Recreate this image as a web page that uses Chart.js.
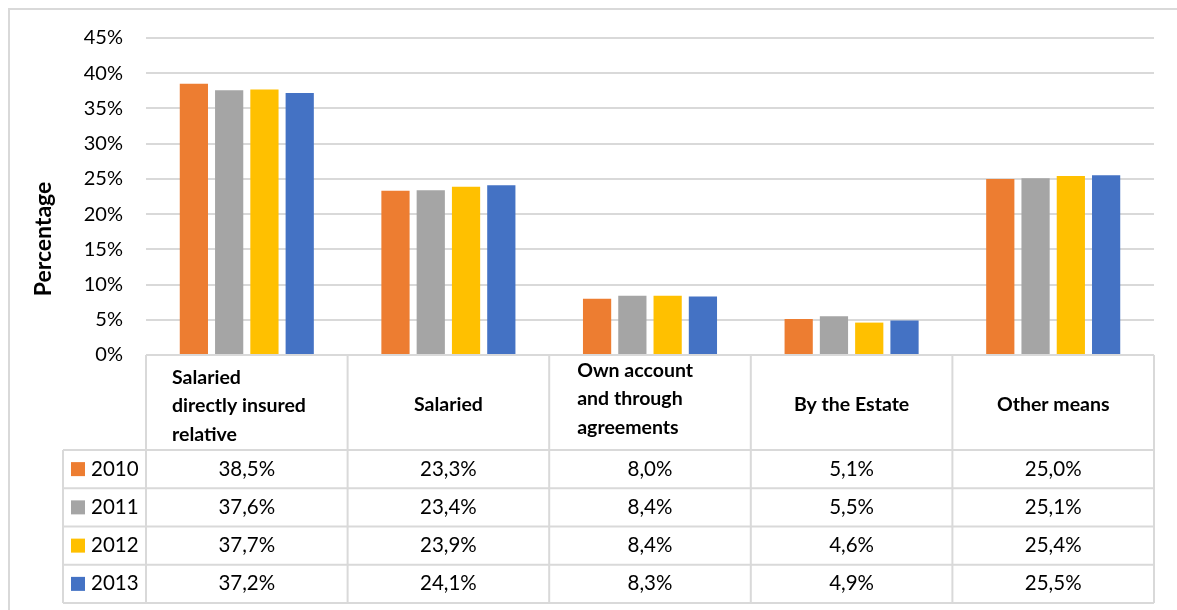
<!DOCTYPE html>
<html>
<head>
<meta charset="utf-8">
<script src="https://cdn.jsdelivr.net/npm/chart.js@4"></script>
<style>
  body { margin: 0; background: #fff; }
  canvas { display: block; }
</style>
</head>
<body>
<canvas id="grafica" width="1177" height="610"></canvas>
<script>
const categorias = [
    ['Salaried', 'directly insured', 'relative'],
    ['Salaried'],
    ['Own account', 'and through', 'agreements'],
    ['By the Estate'],
    ['Other means']
]
const anios = ['2010', '2011', '2012', '2013']
const valores2010 = [38.5, 23.3, 8.0, 5.1, 25.0]
const valores2011 = [37.6, 23.4, 8.4, 5.5, 25.1]
const valores2012 = [37.7, 23.9, 8.4, 4.6, 25.4]
const valores2013 = [37.2, 24.1, 8.3, 4.9, 25.5]
const ticksY = [0, 5, 10, 15, 20, 25, 30, 35, 40, 45]
const tituloY = 'Percentage'

const colores = ['#ed7d31', '#a5a5a5', '#ffc000', '#4472c4']
const series = [valores2010, valores2011, valores2012, valores2013]
const fuente = 'Lato, "Liberation Sans", sans-serif'
const gris = '#d9d9d9'

const formato = v => v.toFixed(1).replace('.', ',') + '%'

// tabla de datos debajo del grafico, como en Excel
const tablaDatos = {
    id: 'tablaDatos',
    afterDraw(chart) {
        const { ctx, chartArea, scales: { x } } = chart
        const n = categorias.length
        const anchoCol = chartArea.width / n
        const izq = chartArea.left
        const der = chartArea.right
        const arriba = chartArea.bottom
        const finCabecera = 450
        const abajo = 603
        const altoFila = (abajo - finCabecera) / anios.length
        const izqLeyenda = 63

        ctx.save()

        // borde exterior
        ctx.strokeStyle = gris
        ctx.lineWidth = 2
        ctx.strokeRect(9, 9, 1300, 800)

        // lineas de la tabla
        ctx.beginPath()
        ctx.moveTo(izq, arriba); ctx.lineTo(der, arriba)
        for (let r = 0; r <= anios.length; r++) {
            const y = finCabecera + r * altoFila
            ctx.moveTo(izqLeyenda, y); ctx.lineTo(der, y)
        }
        ctx.moveTo(izqLeyenda, finCabecera); ctx.lineTo(izqLeyenda, abajo)
        for (let i = 0; i <= n; i++) {
            const xb = i < n ? x.getPixelForValue(i) - anchoCol / 2 : der
            ctx.moveTo(xb, arriba); ctx.lineTo(xb, abajo)
        }
        ctx.stroke()

        // cabeceras
        ctx.fillStyle = '#000'
        ctx.font = 'bold 19.5px ' + fuente
        ctx.textBaseline = 'middle'
        const centroCab = (arriba + finCabecera) / 2
        categorias.forEach((lineas, i) => {
            const cx = x.getPixelForValue(i)
            const x0 = cx - anchoCol / 2
            ctx.save()
            ctx.beginPath()
            ctx.rect(x0, arriba, anchoCol, 86)
            ctx.clip()
            if (lineas.length > 1) {
                ctx.textAlign = 'left'
                const y0 = centroCab - (lineas.length - 1) * 14 + (i === 0 ? 3 : -4)
                lineas.forEach((t, k) => ctx.fillText(t, x0 + (i === 0 ? 26 : 28), y0 + k * 28.5))
            } else {
                ctx.textAlign = 'center'
                ctx.fillText(lineas[0], cx, centroCab + 2)
            }
            ctx.restore()
        })

        // filas de valores
        ctx.font = '20.5px ' + fuente
        anios.forEach((anio, r) => {
            const cy = finCabecera + r * altoFila + altoFila / 2
            ctx.fillStyle = colores[r]
            ctx.fillRect(71, cy - 7, 14, 14)
            ctx.fillStyle = '#000'
            ctx.textAlign = 'left'
            ctx.fillText(anio, 91, cy)
            ctx.textAlign = 'center'
            series[r].forEach((v, i) => ctx.fillText(formato(v), x.getPixelForValue(i), cy))
        })

        // titulo del eje Y
        ctx.font = 'bold 23px ' + fuente
        ctx.textAlign = 'center'
        ctx.translate(44, 239)
        ctx.rotate(-Math.PI / 2)
        ctx.fillText(tituloY, 0, 0)

        ctx.restore()
    }
}

const ctx = document.getElementById('grafica').getContext('2d')
const myChart = new Chart(ctx, {
    type: 'bar',
    data: {
        labels: categorias.map(c => c.join(' ')),
        datasets: anios.map((anio, i) => ({
            label: anio,
            data: series[i],
            backgroundColor: colores[i],
            categoryPercentage: 0.70,
            barPercentage: 0.80
        }))
    },
    options: {
        responsive: false,
        animation: false,
        layout: {
            padding: { left: 0, top: 38, right: 23, bottom: 255 }
        },
        scales: {
            x: {
                display: false
            },
            y: {
                min: 0,
                max: 45,
                afterFit: scale => { scale.width = 146 },
                afterBuildTicks: scale => { scale.ticks = ticksY.map(v => ({ value: v })) },
                border: { display: false },
                grid: { color: gris, lineWidth: 2, drawTicks: false },
                ticks: {
                    padding: 23,
                    color: '#000',
                    font: { family: fuente, size: 20 },
                    callback: v => v + '%'
                }
            }
        },
        plugins: {
            legend: { display: false },
            tooltip: { enabled: false }
        }
    },
    plugins: [tablaDatos]
})
</script>
</body>
</html>
